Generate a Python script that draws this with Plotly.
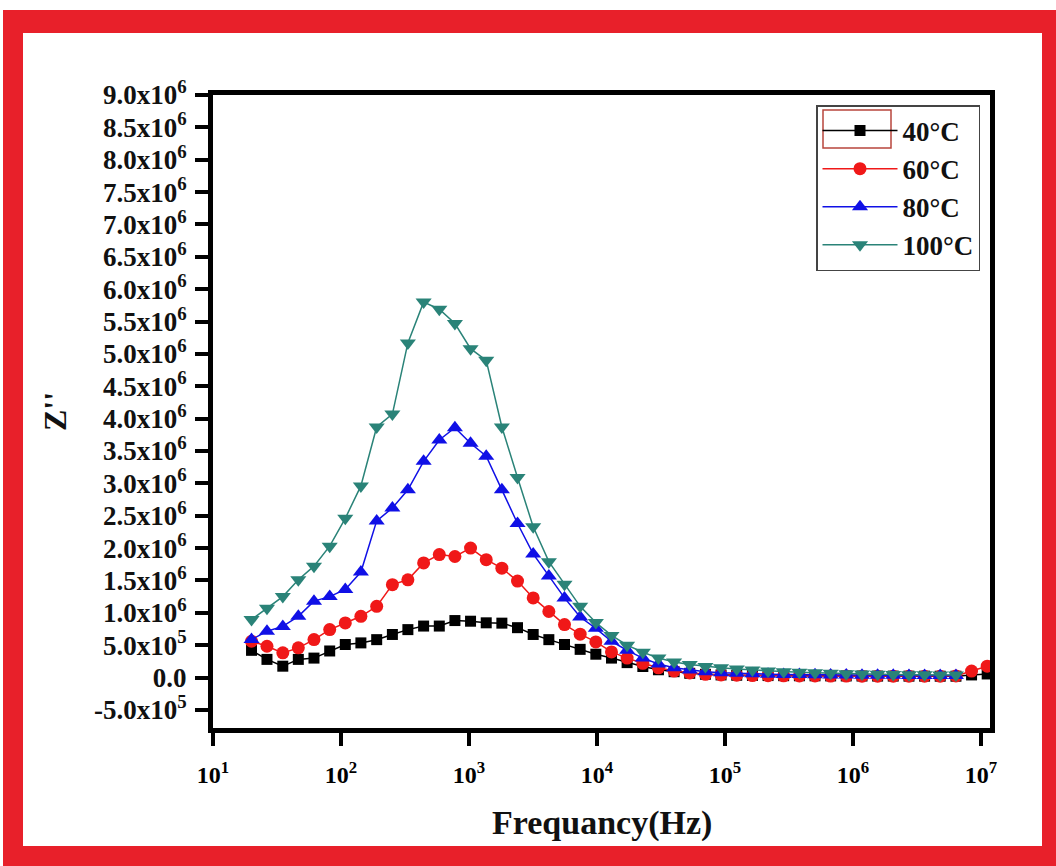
import plotly.graph_objects as go

# ---------------- data ----------------
freq_hz = [20.0, 26.4, 35.1, 46.4, 61.5, 81.6, 108, 143, 190, 252, 333, 442, 586, 776,
           1028, 1363, 1806, 2393, 3172, 4204, 5570, 7382, 9790, 12970, 17180, 22800,
           30200, 40000, 53000, 70300, 93100, 123400, 163700, 216800, 287100, 381000,
           504700, 668300, 885100, 1.175e6, 1.556e6, 2.061e6, 2.735e6, 3.622e6,
           4.797e6, 6.368e6, 8.433e6, 1.117e7]

z_40 = [420e3, 280e3, 175e3, 280e3, 300e3, 410e3, 510e3, 535e3, 585e3, 665e3, 740e3,
        795e3, 795e3, 880e3, 870e3, 845e3, 840e3, 770e3, 665e3, 585e3, 510e3, 435e3,
        360e3, 300e3, 230e3, 170e3, 120e3, 90e3, 65e3, 50e3, 40e3, 35e3, 32e3, 30e3,
        28e3, 27e3, 26e3, 25e3, 24e3, 23e3, 22e3, 22e3, 21e3, 21e3, 20e3, 20e3, 40e3, 55e3]

z_60 = [560e3, 483e3, 381e3, 458e3, 586e3, 741e3, 843e3, 946e3, 1.10e6, 1.435e6, 1.51e6,
        1.77e6, 1.90e6, 1.87e6, 2.0e6, 1.82e6, 1.69e6, 1.49e6, 1.23e6, 1.02e6, 818e3,
        670e3, 550e3, 395e3, 300e3, 220e3, 150e3, 100e3, 70e3, 50e3, 40e3, 35e3, 30e3,
        28e3, 26e3, 25e3, 24e3, 23e3, 22e3, 21e3, 20e3, 20e3, 20e3, 20e3, 20e3, 25e3,
        100e3, 175e3]

z_80 = [586e3, 715e3, 790e3, 946e3, 1.18e6, 1.25e6, 1.36e6, 1.63e6, 2.42e6, 2.62e6, 2.90e6,
        3.34e6, 3.67e6, 3.86e6, 3.62e6, 3.42e6, 2.90e6, 2.38e6, 1.91e6, 1.57e6, 1.23e6,
        935e3, 760e3, 560e3, 420e3, 300e3, 210e3, 150e3, 115e3, 90e3, 75e3, 65e3, 58e3,
        52e3, 48e3, 45e3, 42e3, 40e3, 38e3, 36e3, 35e3, 34e3, 33e3, 32e3, 31e3, 30e3,
        None, None]

z_100 = [895e3, 1.07e6, 1.25e6, 1.51e6, 1.72e6, 2.03e6, 2.46e6, 2.96e6, 3.87e6, 4.07e6,
         5.17e6, 5.80e6, 5.69e6, 5.47e6, 5.08e6, 4.90e6, 3.87e6, 3.09e6, 2.33e6, 1.79e6,
         1.44e6, 1.10e6, 850e3, 650e3, 500e3, 390e3, 300e3, 240e3, 200e3, 170e3, 150e3,
         130e3, 115e3, 100e3, 90e3, 80e3, 72e3, 65e3, 60e3, 55e3, 50e3, 47e3, 44e3, 42e3,
         40e3, 38e3, None, None]

series_names = ["40\u00b0C", "60\u00b0C", "80\u00b0C", "100\u00b0C"]
series_values = [z_40, z_60, z_80, z_100]

x_tick_vals = [1e1, 1e2, 1e3, 1e4, 1e5, 1e6, 1e7]
x_tick_text = ["10<sup>1</sup>", "10<sup>2</sup>", "10<sup>3</sup>", "10<sup>4</sup>",
               "10<sup>5</sup>", "10<sup>6</sup>", "10<sup>7</sup>"]

y_tick_vals = [-5e5, 0, 5e5, 1.0e6, 1.5e6, 2.0e6, 2.5e6, 3.0e6, 3.5e6, 4.0e6, 4.5e6,
               5.0e6, 5.5e6, 6.0e6, 6.5e6, 7.0e6, 7.5e6, 8.0e6, 8.5e6, 9.0e6]
y_tick_text = ["-5.0x10<sup>5</sup>", "0.0", "5.0x10<sup>5</sup>", "1.0x10<sup>6</sup>",
               "1.5x10<sup>6</sup>", "2.0x10<sup>6</sup>", "2.5x10<sup>6</sup>",
               "3.0x10<sup>6</sup>", "3.5x10<sup>6</sup>", "4.0x10<sup>6</sup>",
               "4.5x10<sup>6</sup>", "5.0x10<sup>6</sup>", "5.5x10<sup>6</sup>",
               "6.0x10<sup>6</sup>", "6.5x10<sup>6</sup>", "7.0x10<sup>6</sup>",
               "7.5x10<sup>6</sup>", "8.0x10<sup>6</sup>", "8.5x10<sup>6</sup>",
               "9.0x10<sup>6</sup>"]

# ---------------- styles ----------------
colors = ["#000000", "#f01818", "#1010e6", "#2a8378"]
symbols = ["square", "circle", "triangle-up", "triangle-down"]
msizes = [11, 13, 14, 14]

W, H = 1056, 866
L, R, T, B = 213, 66, 95, 138
PW, PH = W - L - R, H - T - B
FONT = "Liberation Serif"


def px(x):
    return (x - L) / PW


def py(y):
    return (H - B - y) / PH


fig = go.Figure()
for name, vals, c, s, ms in zip(series_names, series_values, colors, symbols, msizes):
    fig.add_trace(go.Scatter(
        x=freq_hz, y=vals, name=name, mode="lines+markers",
        line=dict(color=c, width=1.5),
        marker=dict(symbol=s, size=ms, color=c, line=dict(width=0)),
        connectgaps=False,
    ))

axis_common = dict(
    showline=True, linecolor="black", linewidth=5, mirror=True,
    ticks="outside", tickcolor="black", tickwidth=4, ticklen=13,
    showgrid=False, zeroline=False,
)

fig.update_xaxes(type="log", range=[1, 7.07], tickvals=x_tick_vals, ticktext=x_tick_text,
                 tickfont=dict(family=FONT, size=24, color="black", weight="bold"),
                 ticklabelstandoff=8, **axis_common)
fig.update_yaxes(range=[-7.8e5, 9.0e6], tickvals=y_tick_vals, ticktext=y_tick_text,
                 tickfont=dict(family=FONT, size=27, color="#111111", weight="bold"),
                 ticklabelstandoff=3, **axis_common)

red = "#e8202a"
shapes = [
    # red picture frame (four strips)
    dict(type="rect", xref="paper", yref="paper", x0=px(3), x1=px(1056), y0=py(10), y1=py(33),
         fillcolor=red, line=dict(width=0), layer="above"),
    dict(type="rect", xref="paper", yref="paper", x0=px(3), x1=px(1056), y0=py(846), y1=py(866),
         fillcolor=red, line=dict(width=0), layer="above"),
    dict(type="rect", xref="paper", yref="paper", x0=px(3), x1=px(23), y0=py(10), y1=py(866),
         fillcolor=red, line=dict(width=0), layer="above"),
    dict(type="rect", xref="paper", yref="paper", x0=px(1042), x1=px(1056), y0=py(10), y1=py(866),
         fillcolor=red, line=dict(width=0), layer="above"),
    # selection box around first legend entry
    dict(type="rect", xref="paper", yref="paper", x0=px(823), x1=px(891), y0=py(110), y1=py(148),
         fillcolor="rgba(0,0,0,0)", line=dict(color="#b8463c", width=1.5), layer="above"),
]

annotations = [
    dict(text="<b>Frequancy(Hz)</b>", xref="paper", yref="paper", x=px(602), y=py(823),
         showarrow=False, font=dict(family=FONT, size=34, color="#111111"),
         xanchor="center", yanchor="middle"),
    dict(text="<b>Z''</b>", xref="paper", yref="paper", x=px(55), y=py(412),
         showarrow=False, textangle=-90, font=dict(family=FONT, size=32, color="#111111"),
         xanchor="center", yanchor="middle"),
]

fig.update_layout(
    width=W, height=H,
    margin=dict(l=L, r=R, t=T, b=B, pad=0),
    paper_bgcolor="white", plot_bgcolor="white",
    font=dict(family=FONT, color="black"),
    showlegend=True,
    legend=dict(
        x=px(816), y=py(105), xanchor="left", yanchor="top",
        bgcolor="rgba(255,255,255,0)", bordercolor="#444444", borderwidth=1.5,
        font=dict(family=FONT, size=27, color="#111111", weight="bold"),
        itemwidth=75, tracegroupgap=0,
    ),
    shapes=shapes,
    annotations=annotations,
)

fig.write_html("out.html")
